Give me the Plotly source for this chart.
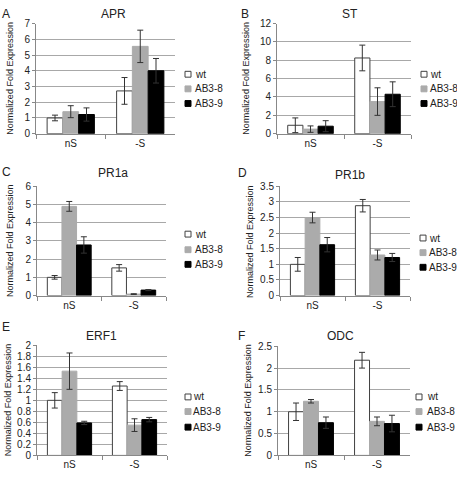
import plotly.graph_objects as go

W, H = 457, 478
conditions = ["nS", "-S"]
series = ["wt", "AB3-8", "AB3-9"]

apr_vals = {"wt": [1.0, 2.72], "AB3-8": [1.4, 5.55], "AB3-9": [1.22, 4.0]}
apr_err = {"wt": [0.18, 0.85], "AB3-8": [0.38, 1.03], "AB3-9": [0.42, 0.78]}
st_vals = {"wt": [0.92, 8.25], "AB3-8": [0.5, 3.5], "AB3-9": [0.82, 4.3]}
st_err = {"wt": [0.8, 1.4], "AB3-8": [0.35, 1.5], "AB3-9": [0.6, 1.35]}
pr1a_vals = {"wt": [1.0, 1.52], "AB3-8": [4.9, 0.08], "AB3-9": [2.78, 0.3]}
pr1a_err = {"wt": [0.1, 0.18], "AB3-8": [0.27, 0.02], "AB3-9": [0.45, 0.03]}
pr1b_vals = {"wt": [1.0, 2.88], "AB3-8": [2.5, 1.3], "AB3-9": [1.63, 1.22]}
pr1b_err = {"wt": [0.22, 0.2], "AB3-8": [0.17, 0.16], "AB3-9": [0.23, 0.13]}
erf1_vals = {"wt": [1.0, 1.26], "AB3-8": [1.53, 0.55], "AB3-9": [0.59, 0.65]}
erf1_err = {"wt": [0.14, 0.08], "AB3-8": [0.33, 0.115], "AB3-9": [0.03, 0.04]}
odc_vals = {"wt": [1.0, 2.18], "AB3-8": [1.24, 0.78], "AB3-9": [0.75, 0.73]}
odc_err = {"wt": [0.2, 0.18], "AB3-8": [0.04, 0.1], "AB3-9": [0.13, 0.19]}

titles = ["APR", "ST", "PR1a", "PR1b", "ERF1", "ODC"]
letters = ["A", "B", "C", "D", "E", "F"]
y_max = [7, 12, 6, 3.5, 2, 2.5]
y_dtick = [1, 2, 1, 0.5, 0.2, 0.5]
panel_vals = [apr_vals, st_vals, pr1a_vals, pr1b_vals, erf1_vals, odc_vals]
panel_err = [apr_err, st_err, pr1a_err, pr1b_err, erf1_err, odc_err]

# layout geometry (pixels)
plot_boxes = [(36, 175, 18, 131), (277, 411, 18, 131),
              (37, 166, 185, 297), (280, 410, 185, 297),
              (37, 167, 348, 461), (278, 410, 349, 461)]
title_pos = [(113, 8), (350, 8), (113, 171), (350, 173), (101, 338), (340, 339)]
letter_pos = [(6, 8), (245, 8), (6, 170), (243, 171), (6, 329), (241, 339)]
ytitle_x = [10, 246, 10, 250, 8, 248]
# legend: swatch left x, text left x, item centre ys
legend_geo = [(185, 193, [70, 85, 100]), (421, 428, [70, 85, 100]),
              (185, 193, [234, 250, 265]), (420, 427, [238, 253, 268]),
              (185, 191, [401, 416, 432]), (416, 425, [401, 416, 432])]

fill = {"wt": "#ffffff", "AB3-8": "#ababab", "AB3-9": "#000000"}
outline = {"wt": "#404040", "AB3-8": "#ababab", "AB3-9": "#000000"}

FONT = "Liberation Sans, Arial, sans-serif"
fig = go.Figure()
annotations = []
shapes = []
layout = dict(width=W, height=H, margin=dict(l=0, r=0, t=0, b=0),
              paper_bgcolor="white", plot_bgcolor="white", showlegend=False,
              barmode="group", bargap=0.32, bargroupgap=0,
              font=dict(family=FONT, size=10, color="#222"))

def px(x):
    return x / W

def py(y):
    return 1 - y / H

for i in range(6):
    n = i + 1
    xa = "x" if n == 1 else f"x{n}"
    ya = "y" if n == 1 else f"y{n}"
    for s in series:
        fig.add_trace(go.Bar(
            x=conditions, y=panel_vals[i][s], name=s,
            xaxis=xa, yaxis=ya,
            marker=dict(color=fill[s], line=dict(color=outline[s], width=1)),
            error_y=dict(type="data", array=panel_err[i][s], color="#333333",
                         thickness=1, width=3),
        ))
    x0, x1, y0, y1 = plot_boxes[i]
    layout[f"xaxis{'' if n == 1 else n}"] = dict(
        domain=[px(x0), px(x1)], anchor=ya, type="category",
        tickson="boundaries", ticks="outside", ticklen=4, tickcolor="#888",
        showline=True, linecolor="#888", linewidth=1, showgrid=False,
        tickfont=dict(size=10, color="#222"), fixedrange=True)
    layout[f"yaxis{'' if n == 1 else n}"] = dict(
        domain=[py(y1), py(y0)], anchor=xa, range=[0, y_max[i]],
        dtick=y_dtick[i], tick0=0, ticks="outside", ticklen=3, tickcolor="#888",
        showline=True, linecolor="#888", linewidth=1,
        showgrid=True, gridcolor="#a8a8a8", gridwidth=1, zeroline=False,
        tickfont=dict(size=10, color="#222"), fixedrange=True)
    # legend (swatches + labels)
    sx, tx_, ys = legend_geo[i]
    for s, cy in zip(series, ys):
        shapes.append(dict(type="rect", xref="paper", yref="paper",
                           x0=px(sx), x1=px(sx + 6), y0=py(cy + 3), y1=py(cy - 3),
                           fillcolor=fill[s], line=dict(color="#404040" if s == "wt" else fill[s], width=1)))
        annotations.append(dict(text=s, x=px(tx_), y=py(cy), xref="paper", yref="paper",
                                xanchor="left", yanchor="middle", showarrow=False,
                                font=dict(size=10, color="#222")))
    tx, ty = title_pos[i]
    annotations.append(dict(text=titles[i], x=px(tx), y=py(ty), xref="paper", yref="paper",
                            xanchor="center", yanchor="middle",
                            showarrow=False, font=dict(size=12, color="#222")))
    lxp, lyp = letter_pos[i]
    annotations.append(dict(text=letters[i], x=px(lxp), y=py(lyp), xref="paper", yref="paper",
                            xanchor="center", yanchor="middle",
                            showarrow=False, font=dict(size=12, color="#222")))
    annotations.append(dict(text="Normalized Fold Expression", x=px(ytitle_x[i]),
                            y=py((y0 + y1) / 2), xref="paper", yref="paper",
                            xanchor="center", yanchor="middle",
                            textangle=-90, showarrow=False, font=dict(size=9, color="#222")))

layout["annotations"] = annotations
layout["shapes"] = shapes
fig.update_layout(**layout)
fig.write_html("out.html", config={"displayModeBar": False, "staticPlot": True},
               post_script="document.body.style.margin='0';document.body.style.padding='0';"
                           "document.body.style.overflow='hidden';")
